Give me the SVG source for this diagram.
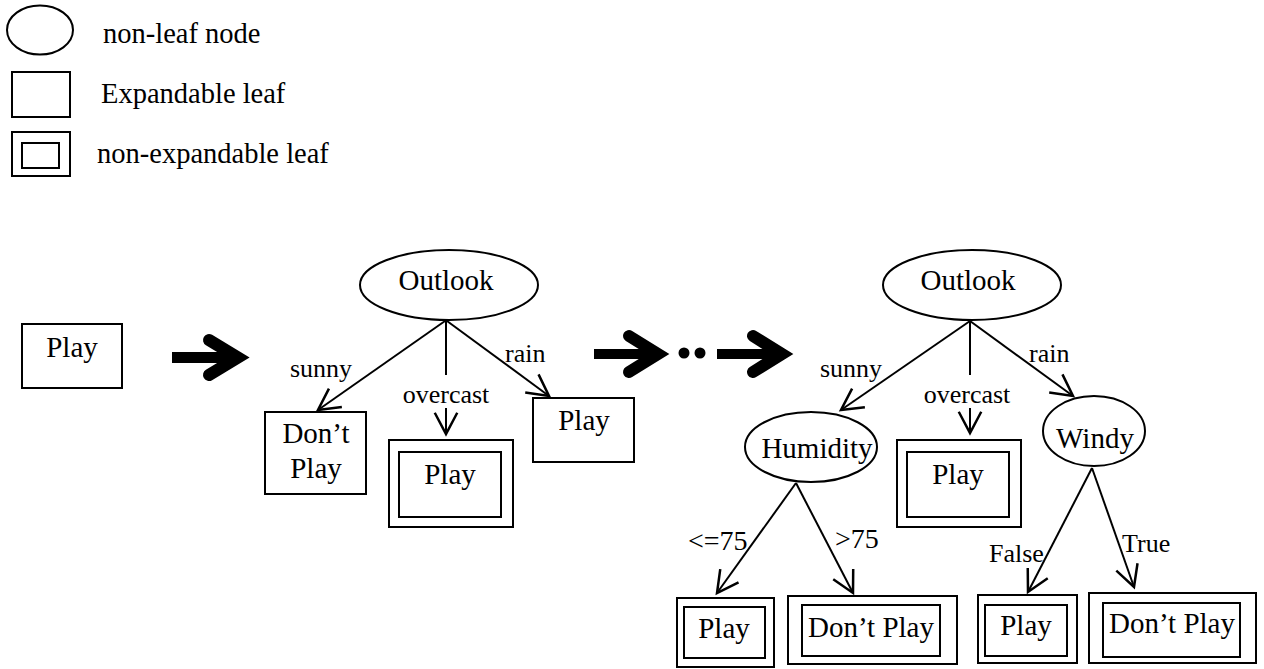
<svg xmlns="http://www.w3.org/2000/svg" width="1264" height="669" viewBox="0 0 1264 669">
<style>
text{font-family:"Liberation Serif","Times New Roman",serif;fill:#000}
.n{font-size:29px;text-anchor:middle}
.lg{font-size:28.5px}
.e{font-size:26px}
.e2{font-size:28px}
.s{fill:#fff;stroke:#000;stroke-width:2}
.c{stroke:#000;stroke-width:2;fill:none}
.big{stroke:#000;stroke-width:12;fill:none;stroke-linecap:round;stroke-linejoin:miter}
</style>
<defs>
<marker id="ah" markerUnits="userSpaceOnUse" markerWidth="30" markerHeight="30" viewBox="-20 -12 24 24" refX="0" refY="0" orient="auto">
<path d="M-17,-9 L0,0 L-17,9" fill="none" stroke="#000" stroke-width="2"/>
</marker>
</defs>
<rect width="1264" height="669" fill="#fff"/>
<g id="legend">
<ellipse class="s" cx="40" cy="30" rx="33" ry="24.5"/>
<text class="lg" x="103" y="43">non-leaf node</text>
<rect class="s" x="12" y="72" width="58" height="45"/>
<text class="lg" x="101" y="103">Expandable leaf</text>
<rect class="s" x="12" y="132" width="58" height="44"/>
<rect class="s" x="22" y="143" width="37" height="25"/>
<text class="lg" x="97" y="163">non-expandable leaf</text>
</g>
<g id="bigarrows">
<rect x="172" y="352" width="56" height="11" fill="#000"/>
<path class="big" d="M209,340 L238,357.5 L209,375"/>
<rect x="594" y="349" width="62" height="10" fill="#000"/>
<path class="big" d="M629,336 L658,354 L629,372"/>
<circle cx="684" cy="353" r="5.5" fill="#000"/>
<circle cx="700" cy="353" r="5.5" fill="#000"/>
<rect x="717" y="349" width="63" height="10" fill="#000"/>
<path class="big" d="M753,336 L782,354 L753,372"/>
</g>
<g id="connectors">
<line class="c" x1="445" y1="321" x2="318" y2="410" marker-end="url(#ah)"/>
<line class="c" x1="446" y1="321" x2="446" y2="375"/>
<line class="c" x1="446" y1="408" x2="446" y2="434" marker-end="url(#ah)"/>
<line class="c" x1="447" y1="321" x2="549" y2="396" marker-end="url(#ah)"/>
<line class="c" x1="970" y1="321" x2="841" y2="410" marker-end="url(#ah)"/>
<line class="c" x1="970" y1="321" x2="970" y2="375"/>
<line class="c" x1="970" y1="408" x2="970" y2="433" marker-end="url(#ah)"/>
<line class="c" x1="970" y1="321" x2="1073" y2="396" marker-end="url(#ah)"/>
<line class="c" x1="796" y1="483" x2="717" y2="593" marker-end="url(#ah)"/>
<line class="c" x1="796" y1="483" x2="853" y2="593" marker-end="url(#ah)"/>
<line class="c" x1="1092" y1="468" x2="1028" y2="592" marker-end="url(#ah)"/>
<line class="c" x1="1092" y1="468" x2="1134" y2="587" marker-end="url(#ah)"/>
<text class="e" x="352" y="377" text-anchor="end">sunny</text>
<text class="e" x="446" y="403" text-anchor="middle">overcast</text>
<text class="e" x="505" y="362">rain</text>
<text class="e" x="882" y="377" text-anchor="end">sunny</text>
<text class="e" x="967" y="403" text-anchor="middle">overcast</text>
<text class="e" x="1029" y="362">rain</text>
<text class="e2" x="688" y="550">&lt;=75</text>
<text class="e2" x="835" y="548">&gt;75</text>
<text class="e" x="989" y="562">False</text>
<text class="e" x="1122" y="552">True</text>
</g>
<g id="start-play">
<rect class="s" x="22" y="324" width="100" height="64"/>
<text class="n" x="72" y="357">Play</text>
</g>
<g id="outlook1">
<ellipse class="s" cx="449" cy="285" rx="89" ry="35"/>
<text class="n" x="446" y="290">Outlook</text>
</g>
<g id="dontplay1">
<rect class="s" x="265" y="412" width="101" height="82"/>
<text class="n" x="316" y="443">Don’t</text>
<text class="n" x="316" y="478">Play</text>
</g>
<g id="overcast-play1">
<rect class="s" x="389" y="440" width="124" height="87"/>
<rect class="s" x="399" y="452" width="102" height="65"/>
<text class="n" x="450" y="484">Play</text>
</g>
<g id="rain-play1">
<rect class="s" x="533" y="398" width="101" height="64"/>
<text class="n" x="584" y="430">Play</text>
</g>
<g id="outlook2">
<ellipse class="s" cx="972" cy="285" rx="89" ry="35"/>
<text class="n" x="968" y="290">Outlook</text>
</g>
<g id="humidity">
<ellipse class="s" cx="811" cy="447" rx="66" ry="35"/>
<text class="n" x="817" y="458">Humidity</text>
</g>
<g id="overcast-play2">
<rect class="s" x="897" y="440" width="124" height="87"/>
<rect class="s" x="907" y="452" width="102" height="65"/>
<text class="n" x="958" y="484">Play</text>
</g>
<g id="windy">
<ellipse class="s" cx="1094" cy="431" rx="51" ry="35"/>
<text class="n" x="1095" y="448">Windy</text>
</g>
<g id="leaf-play-a">
<rect class="s" x="677" y="598" width="97" height="69"/>
<rect class="s" x="684" y="607" width="81" height="51"/>
<text class="n" x="724" y="638">Play</text>
</g>
<g id="leaf-dontplay-a">
<rect class="s" x="788" y="596" width="169" height="68"/>
<rect class="s" x="802" y="605" width="138" height="51"/>
<text class="n" x="871" y="637">Don’t Play</text>
</g>
<g id="leaf-play-b">
<rect class="s" x="978" y="595" width="99" height="68"/>
<rect class="s" x="985" y="605" width="82" height="51"/>
<text class="n" x="1026" y="635">Play</text>
</g>
<g id="leaf-dontplay-b">
<rect class="s" x="1089" y="593" width="167" height="70"/>
<rect class="s" x="1103" y="603" width="137" height="54"/>
<text class="n" x="1172" y="633">Don’t Play</text>
</g>
</svg>
